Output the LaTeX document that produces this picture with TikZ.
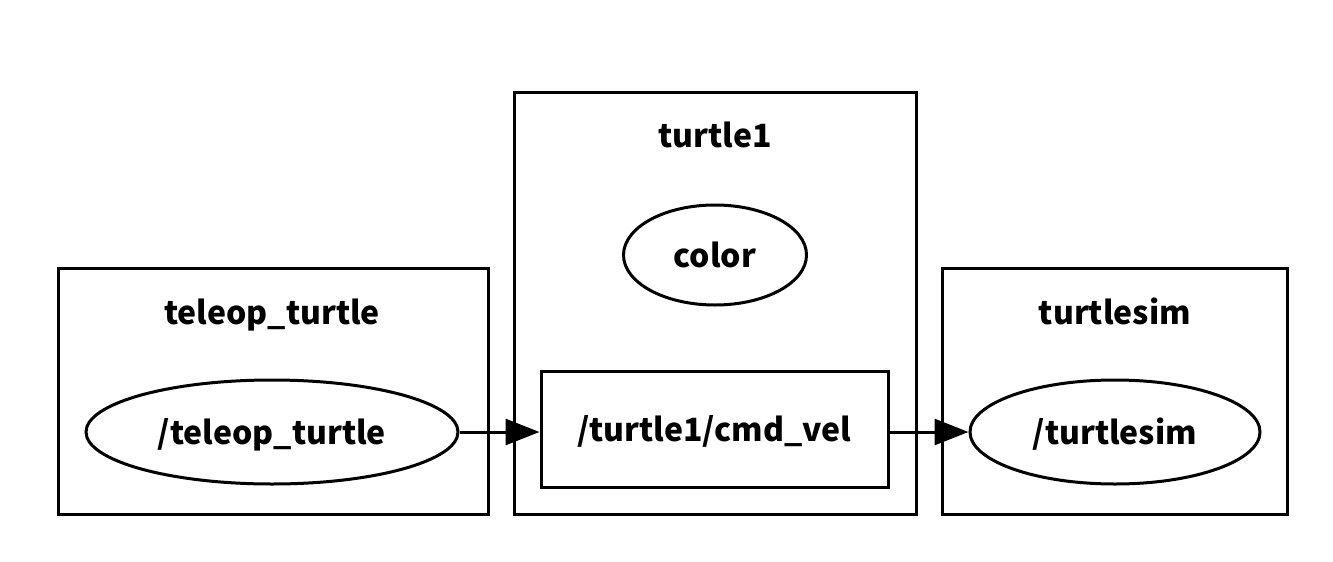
\documentclass[tikz,border=0pt]{standalone}
\usepackage{fontspec}
\setmainfont{Noto Sans CJK SC}
\usetikzlibrary{arrows.meta,shapes.geometric}
\begin{document}
\begin{tikzpicture}[x=1pt,y=-1pt,
  lw/.style={line width=3pt},
  txt/.style={font=\fontsize{32}{32}\selectfont\bfseries,text height=30pt,text depth=6pt},
  lbl/.style={txt,inner sep=0pt},
  ell/.style={lw,draw,ellipse,inner sep=0pt,txt},
  topic/.style={lw,draw,rectangle,inner sep=0pt,txt},
  conn/.style={lw,-{Triangle[length=34pt,width=26pt]}}]
\useasboundingbox (0,0) rectangle (1333,562);
\draw[lw] (58,268) rectangle (488,514);
\draw[lw] (514,92) rectangle (916,514);
\draw[lw] (942,268) rectangle (1287,514);
\node[lbl] (lt) at (272,312) {teleop\_turtle};
\node[lbl] (l1) at (715,135) {turtle1};
\node[lbl] (ls) at (1115,312) {turtlesim};
\node[ell,minimum width=372pt,minimum height=104pt] (tt) at (272,432) {/teleop\_turtle};
\node[ell,minimum width=183pt,minimum height=100pt] (col) at (715,255) {color};
\node[topic,minimum width=347pt,minimum height=116pt] (cv) at (714.5,429) {/turtle1/cmd\_vel};
\node[ell,minimum width=290pt,minimum height=104pt] (ts) at (1115,432) {/turtlesim};
\draw[conn] (tt.east) -- (cv.west|-tt.east);
\draw[conn] (cv.east|-ts.west) -- (ts.west);
\end{tikzpicture}
\end{document}
